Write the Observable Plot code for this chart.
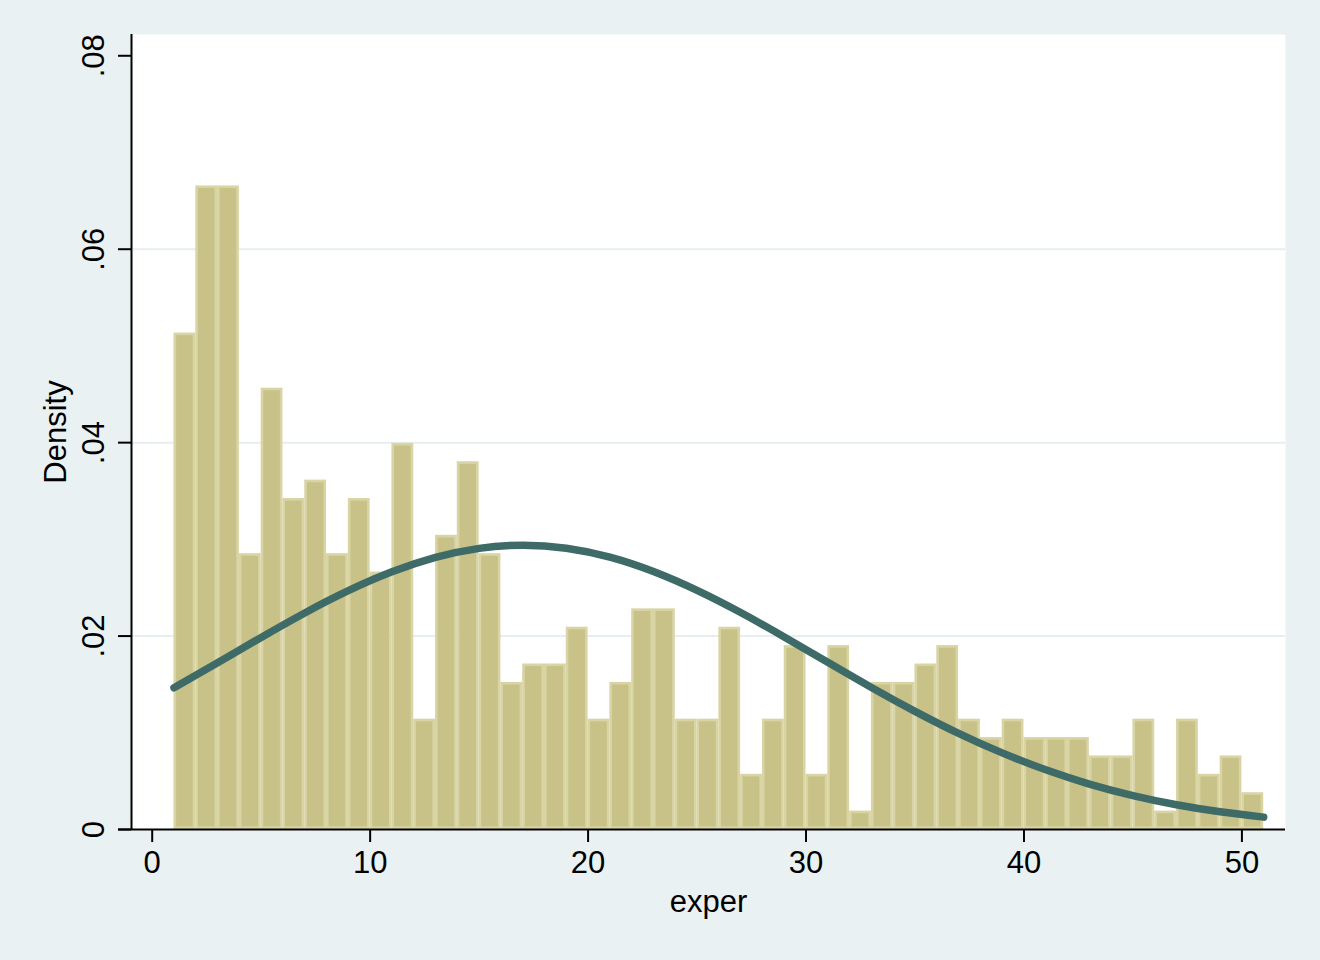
<!DOCTYPE html>
<html>
<head>
<meta charset="utf-8">
<script src="https://cdn.jsdelivr.net/npm/d3@7"></script>
<script src="https://cdn.jsdelivr.net/npm/@observablehq/plot@0.6"></script>
<style>
  html, body { margin: 0; padding: 0; background: #EAF1F3; }
  #chart { width: 1320px; height: 960px; }
</style>
</head>
<body>
<div id="chart"></div>
<script>
// Histogram of exper: bins of width 1 starting at 1 (left edges), counts per bin
const binStarts = [1,2,3,4,5,6,7,8,9,10,11,12,13,14,15,16,17,18,19,20,21,22,23,24,25,
                   26,27,28,29,30,31,32,33,34,35,36,37,38,39,40,41,42,43,44,45,46,47,48,49,50];
const binCounts = [27,35,35,15,24,18,19,15,18,14,21,6,16,20,15,8,9,9,11,6,8,12,12,6,6,
                   11,3,6,10,3,10,1,8,8,9,10,6,5,6,5,5,5,4,4,6,1,6,3,4,2];
const nObs = 526;
const binWidth = 1;

// Normal density overlay
const curveX = [1,3,5,7,9,11,13,15,17,19,21,23,25,27,29,31,33,35,37,39,41,43,45,47,49,51];
const curveY = [0.01465,0.01725,0.01986,0.02239,0.02469,0.02664,0.02813,0.02907,0.02939,
                0.02908,0.02816,0.02667,0.02472,0.02243,0.01991,0.01729,0.01469,0.01222,
                0.00994,0.00792,0.00617,0.00470,0.00351,0.00256,0.00183,0.00128];

const xTicks = [0,10,20,30,40,50];
const yTicks = [0,0.02,0.04,0.06,0.08];
const yTickLabels = ["0",".02",".04",".06",".08"];
const gridTicks = [0.02,0.04,0.06];
const xTitle = "exper";
const yTitle = "Density";

const xDomain = [-0.95, 52];
const yDomain = [0, 0.0822];

const bars = binStarts.map((s, i) => ({x1: s, x2: s + binWidth, y: binCounts[i] / (nObs * binWidth)}));
const curve = curveX.map((x, i) => ({x, y: curveY[i]}));

const font = "'Liberation Sans', Arial, Helvetica, sans-serif";
const fs = 31;

const chart = Plot.plot({
  width: 1320,
  height: 960,
  marginLeft: 131,
  marginRight: 35,
  marginTop: 34,
  marginBottom: 131,
  style: {background: "#EAF1F3", fontFamily: font, color: "#000"},
  x: {domain: xDomain, axis: null},
  y: {domain: yDomain, axis: null},
  marks: [
    Plot.frame({fill: "#FFFFFF", stroke: "none"}),
    Plot.gridY(gridTicks, {stroke: "#E6EEF1", strokeOpacity: 1, strokeWidth: 2}),
    Plot.rectY(bars, {x1: "x1", x2: "x2", y: "y", fill: "#C8C288", stroke: "#D9D4A4",
                      strokeWidth: 2.6, inset: 1.3}),
    Plot.line(curve, {x: "x", y: "y", stroke: "#3E6B67", strokeWidth: 7.5, curve: "natural"}),
    Plot.ruleY([0], {stroke: "#000", strokeWidth: 2, insetLeft: -13}),
    Plot.ruleX([xDomain[0]], {stroke: "#000", strokeWidth: 2}),
    Plot.axisX({ticks: xTicks, tickSize: 13, strokeWidth: 2, stroke: "#000",
                tickFormat: () => "", label: null}),
    Plot.axisY({ticks: yTicks, tickSize: 13, strokeWidth: 2, stroke: "#000",
                tickFormat: () => "", label: null}),
    Plot.text(xTicks, {x: d => d, frameAnchor: "bottom", dy: 34, lineAnchor: "middle",
                       textAnchor: "middle", text: d => String(d), fontSize: fs, fill: "#000"}),
    Plot.text(yTicks, {y: d => d, frameAnchor: "left", dx: -37, lineAnchor: "middle", rotate: -90,
                       textAnchor: "middle", text: (d, i) => yTickLabels[i], fontSize: fs, fill: "#000"}),
    Plot.text([xTitle], {frameAnchor: "bottom", dy: 73, lineAnchor: "middle", textAnchor: "middle",
                         text: d => d, fontSize: fs, fill: "#000"}),
    Plot.text([yTitle], {frameAnchor: "left", dx: -75, lineAnchor: "middle", rotate: -90,
                         textAnchor: "middle", text: d => d, fontSize: fs, fill: "#000"})
  ]
});
document.getElementById("chart").appendChild(chart);
</script>
</body>
</html>
